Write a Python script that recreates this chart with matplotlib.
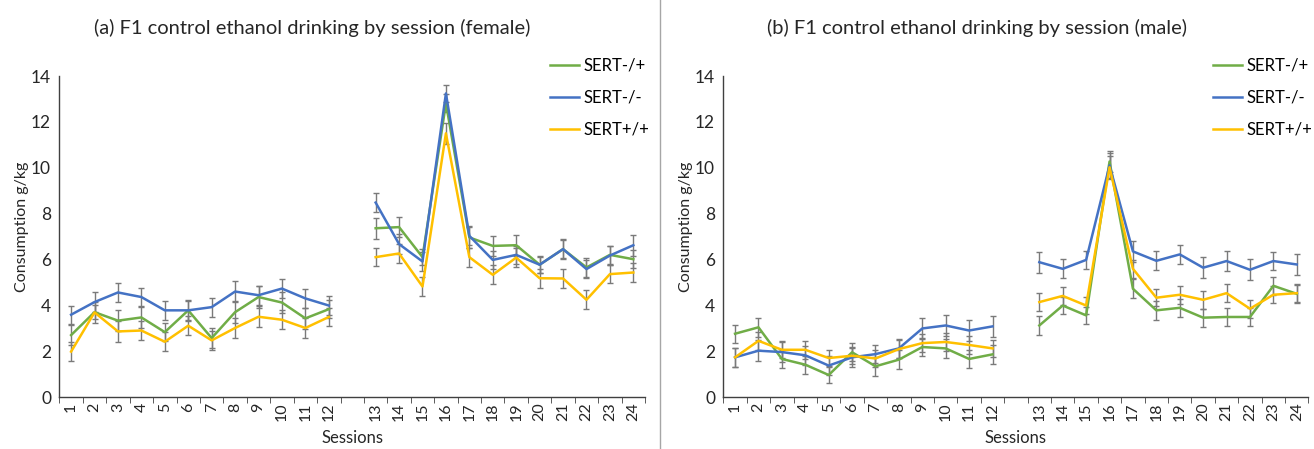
import numpy as np
import matplotlib
matplotlib.use('Agg')
import matplotlib.pyplot as plt
from matplotlib.lines import Line2D

plt.rcParams['font.family'] = ['Lato', 'DejaVu Sans']

sessions = list(range(1, 25))
genotypes = ['SERT-/+', 'SERT-/-', 'SERT+/+']
colors = ['#70AD47', '#4472C4', '#FFC000']

# female, consumption g/kg per session
female_het = [2.70, 3.70, 3.33, 3.47, 2.83, 3.78, 2.57, 3.70, 4.36, 4.12, 3.43, 3.83,
              7.36, 7.41, 6.10, 12.81, 6.96, 6.59, 6.62, 5.77, 6.45, 5.65, 6.20, 6.01]
female_ko = [3.59, 4.14, 4.56, 4.36, 3.78, 3.78, 3.92, 4.60, 4.44, 4.73, 4.30, 3.99,
             8.48, 6.67, 5.91, 13.24, 7.03, 5.98, 6.20, 5.77, 6.45, 5.58, 6.17, 6.62]
female_wt = [1.98, 3.69, 2.86, 2.90, 2.41, 3.11, 2.47, 3.01, 3.50, 3.37, 3.01, 3.49,
             6.10, 6.26, 4.82, 11.50, 6.10, 5.33, 6.08, 5.18, 5.17, 4.24, 5.36, 5.43]
female_het_err = [0.42, 0.30, 0.45, 0.45, 0.40, 0.40, 0.42, 0.48, 0.48, 0.45, 0.45, 0.40,
                  0.45, 0.45, 0.35, 0.40, 0.45, 0.45, 0.45, 0.35, 0.45, 0.40, 0.40, 0.40]
female_ko_err = [0.40, 0.44, 0.40, 0.41, 0.41, 0.45, 0.41, 0.45, 0.41, 0.42, 0.42, 0.42,
                 0.42, 0.45, 0.40, 0.38, 0.42, 0.40, 0.40, 0.38, 0.40, 0.40, 0.42, 0.45]
female_wt_err = [0.42, 0.45, 0.44, 0.41, 0.41, 0.42, 0.41, 0.42, 0.45, 0.41, 0.44, 0.38,
                 0.40, 0.40, 0.40, 0.45, 0.42, 0.42, 0.40, 0.42, 0.40, 0.42, 0.40, 0.40]

# male
male_het = [2.76, 3.04, 1.66, 1.41, 0.96, 1.95, 1.34, 1.63, 2.18, 2.12, 1.66, 1.86,
            3.12, 3.99, 3.56, 10.27, 4.72, 3.78, 3.89, 3.46, 3.49, 3.49, 4.85, 4.50]
male_ko = [1.73, 2.02, 1.96, 1.82, 1.37, 1.73, 1.87, 2.12, 2.99, 3.12, 2.90, 3.08,
           5.88, 5.59, 5.98, 10.10, 6.35, 5.94, 6.22, 5.64, 5.93, 5.55, 5.93, 5.78]
male_wt = [1.73, 2.45, 2.06, 2.06, 1.70, 1.80, 1.68, 2.09, 2.35, 2.40, 2.27, 2.12,
           4.14, 4.41, 3.99, 10.02, 5.59, 4.33, 4.46, 4.24, 4.53, 3.85, 4.46, 4.53]
male_het_err = [0.40, 0.42, 0.38, 0.40, 0.35, 0.40, 0.42, 0.40, 0.38, 0.40, 0.40, 0.40,
                0.40, 0.38, 0.38, 0.45, 0.42, 0.40, 0.40, 0.40, 0.40, 0.38, 0.38, 0.40]
male_ko_err = [0.42, 0.45, 0.42, 0.42, 0.40, 0.40, 0.40, 0.40, 0.45, 0.45, 0.45, 0.45,
               0.45, 0.42, 0.40, 0.55, 0.45, 0.42, 0.42, 0.45, 0.42, 0.45, 0.40, 0.45]
male_wt_err = [0.40, 0.40, 0.38, 0.40, 0.35, 0.38, 0.38, 0.40, 0.38, 0.38, 0.38, 0.38,
               0.40, 0.40, 0.38, 0.50, 0.40, 0.38, 0.40, 0.40, 0.40, 0.40, 0.38, 0.40]

panels = [
    ('(a) F1 control ethanol drinking by session (female)',
     [female_het, female_ko, female_wt], [female_het_err, female_ko_err, female_wt_err]),
    ('(b) F1 control ethanol drinking by session (male)',
     [male_het, male_ko, male_wt], [male_het_err, male_ko_err, male_wt_err]),
]

# slot 12 (between session 12 and 13) stays empty
pos = np.array([s - 1 if s <= 12 else s for s in sessions], dtype=float)


def with_gap(values):
    v = np.array(values, dtype=float)
    return np.insert(pos, 12, 12.0), np.insert(v, 12, np.nan)


fig = plt.figure(figsize=(13.14, 4.49), dpi=100)
axes_rects = [[0.0452, 0.1158, 0.4457, 0.7149], [0.5505, 0.1158, 0.4453, 0.7149]]
title_x = [312 / 1314, 977 / 1314]
legend_x = [550 / 1314, 1213 / 1314]

for i, (title, series, errs) in enumerate(panels):
    ax = fig.add_axes(axes_rects[i])
    for vals, err, col in zip(series, errs, colors):
        ax.errorbar(pos, vals, yerr=err, fmt='none', ecolor='#7a7a7a', elinewidth=1.0,
                    capsize=2.5, capthick=1.0, zorder=2)
    for vals, col, name in zip(series, colors, genotypes):
        xg, yg = with_gap(vals)
        ax.plot(xg, yg, color=col, lw=1.8, label=name, zorder=3)

    ax.set_xlim(-0.5, 24.5)
    ax.set_ylim(0, 14)
    ax.set_yticks(np.arange(0, 15, 2))
    ax.set_xticks(pos)
    ax.set_xticklabels([str(s) for s in sessions], rotation=90, fontsize=11.5, color='#262626')
    ax.set_xticks(np.arange(-0.5, 25, 1), minor=True)
    ax.tick_params(axis='x', which='major', length=0, pad=4)
    ax.tick_params(axis='x', which='minor', length=4, direction='out', color='#404040')
    ax.tick_params(axis='y', length=0, labelsize=12.5, labelcolor='#262626', pad=6)
    for side in ('top', 'right'):
        ax.spines[side].set_visible(False)
    for side in ('left', 'bottom'):
        ax.spines[side].set_color('#404040')
        ax.spines[side].set_linewidth(1.0)
    ax.set_ylabel('Consumption g/kg', fontsize=11.5, color='#262626')
    ax.yaxis.set_label_coords(-0.052, 0.53)
    ax.set_xlabel('Sessions', fontsize=12, color='#262626', labelpad=6)

    fig.text(title_x[i], 0.938, title, ha='center', va='center', fontsize=14.5, color='#262626')
    handles = [Line2D([0], [0], color=c, lw=1.8) for c in colors]
    fig.legend(handles, genotypes, loc='upper left', bbox_to_anchor=(legend_x[i], 0.871),
               frameon=False, fontsize=12, handlelength=1.75, handletextpad=0.25,
               labelspacing=0.95, borderpad=0, borderaxespad=0)

fig.add_artist(Line2D([660 / 1314, 660 / 1314], [0.0, 1.0], color='#a6a6a6', lw=1.0))

fig.savefig('out.png', dpi=100)
